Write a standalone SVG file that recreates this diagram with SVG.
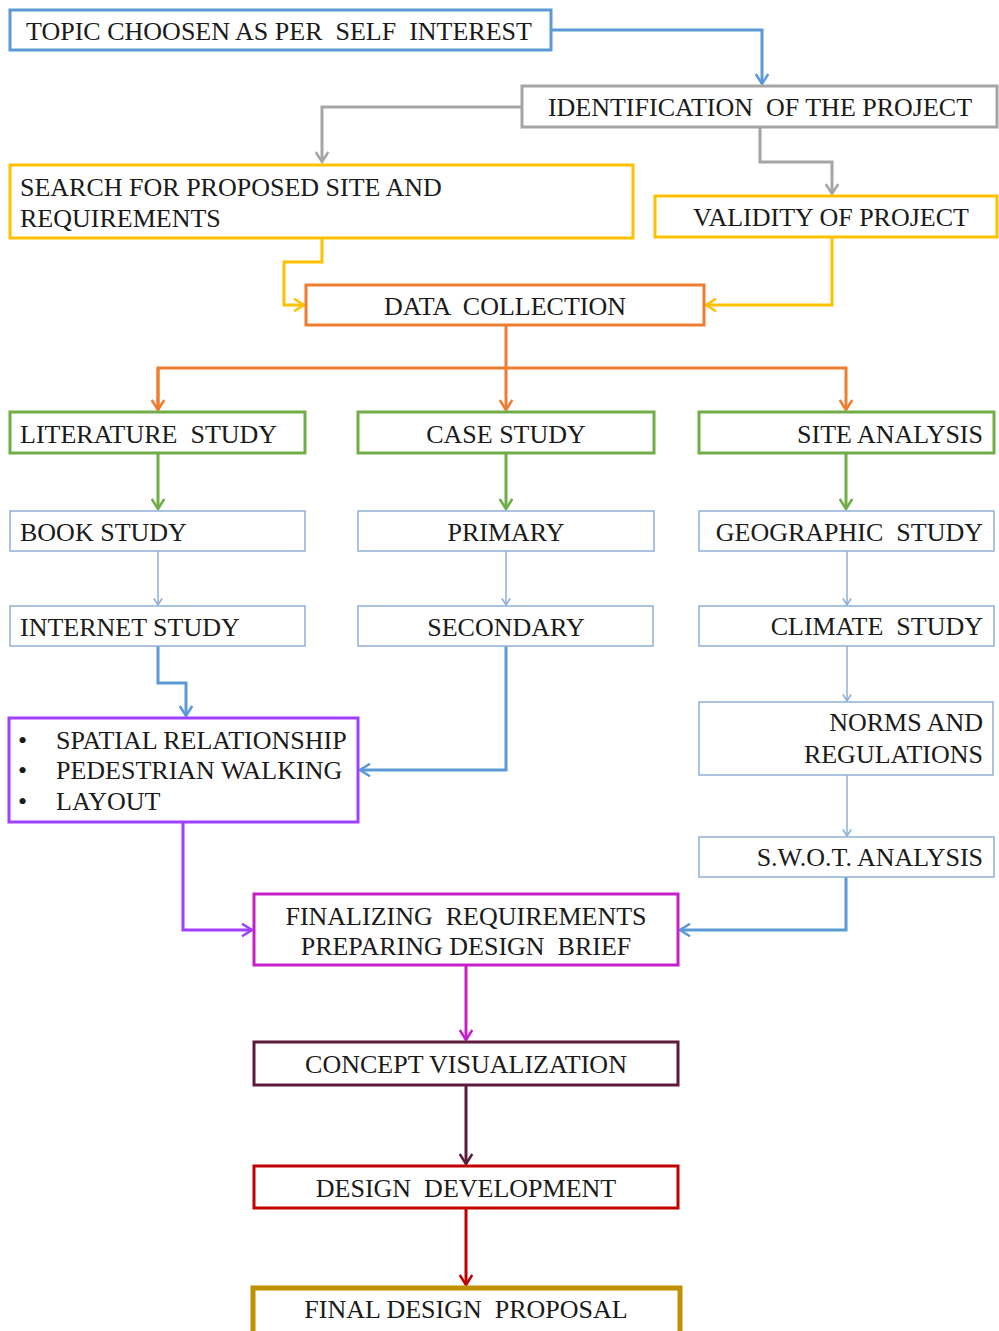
<svg xmlns="http://www.w3.org/2000/svg" width="999" height="1331" viewBox="0 0 999 1331">
  <style>
    text { font-family: "Liberation Serif", "Times New Roman", serif; font-size: 26px; fill: #1a1a1a; white-space: pre; }
    .box { fill: #ffffff; }
    .mid { text-anchor: middle; }
    .end { text-anchor: end; }
    .c { fill: none; stroke-linejoin: miter; }
    .blue { stroke: #5b9bd5; stroke-width: 3; }
    .thin { stroke: #8fb0d8; stroke-width: 1.5; }
    .gray { stroke: #a5a5a5; stroke-width: 3; }
    .yellow { stroke: #ffc000; stroke-width: 3; }
    .orange { stroke: #ed7d31; stroke-width: 3; }
    .green { stroke: #70ad47; stroke-width: 3; }
    .purple { stroke: #9f3fff; stroke-width: 3; }
    .magenta { stroke: #c81ec8; stroke-width: 3; }
    .maroon { stroke: #5e1a3c; stroke-width: 3; }
    .red { stroke: #c00000; stroke-width: 3; }
    .gold { stroke: #bf9000; stroke-width: 5; }
  </style>
  <defs>
    <marker id="a-blue" viewBox="0 0 12 12" refX="10" refY="6" markerWidth="15" markerHeight="15" markerUnits="userSpaceOnUse" orient="auto"><path d="M2,1 L10,6 L2,11" fill="none" stroke="#5b9bd5" stroke-width="2"/></marker>
    <marker id="a-thin" viewBox="0 0 12 12" refX="10" refY="6" markerWidth="10" markerHeight="10" markerUnits="userSpaceOnUse" orient="auto"><path d="M2,1 L10,6 L2,11" fill="none" stroke="#8fb0d8" stroke-width="2"/></marker>
    <marker id="a-gray" viewBox="0 0 12 12" refX="10" refY="6" markerWidth="15" markerHeight="15" markerUnits="userSpaceOnUse" orient="auto"><path d="M2,1 L10,6 L2,11" fill="none" stroke="#a5a5a5" stroke-width="2"/></marker>
    <marker id="a-yellow" viewBox="0 0 12 12" refX="10" refY="6" markerWidth="15" markerHeight="15" markerUnits="userSpaceOnUse" orient="auto"><path d="M2,1 L10,6 L2,11" fill="none" stroke="#ffc000" stroke-width="2"/></marker>
    <marker id="a-orange" viewBox="0 0 12 12" refX="10" refY="6" markerWidth="15" markerHeight="15" markerUnits="userSpaceOnUse" orient="auto"><path d="M2,1 L10,6 L2,11" fill="none" stroke="#ed7d31" stroke-width="2"/></marker>
    <marker id="a-green" viewBox="0 0 12 12" refX="10" refY="6" markerWidth="15" markerHeight="15" markerUnits="userSpaceOnUse" orient="auto"><path d="M2,1 L10,6 L2,11" fill="none" stroke="#70ad47" stroke-width="2"/></marker>
    <marker id="a-purple" viewBox="0 0 12 12" refX="10" refY="6" markerWidth="15" markerHeight="15" markerUnits="userSpaceOnUse" orient="auto"><path d="M2,1 L10,6 L2,11" fill="none" stroke="#9f3fff" stroke-width="2"/></marker>
    <marker id="a-magenta" viewBox="0 0 12 12" refX="10" refY="6" markerWidth="15" markerHeight="15" markerUnits="userSpaceOnUse" orient="auto"><path d="M2,1 L10,6 L2,11" fill="none" stroke="#c81ec8" stroke-width="2"/></marker>
    <marker id="a-maroon" viewBox="0 0 12 12" refX="10" refY="6" markerWidth="15" markerHeight="15" markerUnits="userSpaceOnUse" orient="auto"><path d="M2,1 L10,6 L2,11" fill="none" stroke="#5e1a3c" stroke-width="2"/></marker>
    <marker id="a-red" viewBox="0 0 12 12" refX="10" refY="6" markerWidth="15" markerHeight="15" markerUnits="userSpaceOnUse" orient="auto"><path d="M2,1 L10,6 L2,11" fill="none" stroke="#c00000" stroke-width="2"/></marker>
  </defs>

  <rect width="999" height="1331" fill="#ffffff"/>

  <!-- connectors -->
  <g id="connectors">
    <path class="c blue" d="M551,30 H762 V84" marker-end="url(#a-blue)"/>
    <path class="c gray" d="M522,107 H322 V162" marker-end="url(#a-gray)"/>
    <path class="c gray" d="M760,127 V162 H832 V194" marker-end="url(#a-gray)"/>
    <path class="c yellow" d="M322,238 V262 H284 V305 H304" marker-end="url(#a-yellow)"/>
    <path class="c yellow" d="M832,237 V305 H706" marker-end="url(#a-yellow)"/>
    <path class="c orange" d="M506,325 V410" marker-end="url(#a-orange)"/>
    <path class="c orange" d="M158,410 V368 H846 V410" marker-end="url(#a-orange)"/>
    <path class="c orange" d="M158,368 V410" marker-end="url(#a-orange)"/>
    <path class="c green" d="M158,453 V509" marker-end="url(#a-green)"/>
    <path class="c green" d="M506,453 V509" marker-end="url(#a-green)"/>
    <path class="c green" d="M846,453 V509" marker-end="url(#a-green)"/>
    <path class="c thin" d="M158,551 V605" marker-end="url(#a-thin)"/>
    <path class="c thin" d="M506,551 V605" marker-end="url(#a-thin)"/>
    <path class="c thin" d="M847,551 V605" marker-end="url(#a-thin)"/>
    <path class="c blue" d="M158,646 V683 H186 V716" marker-end="url(#a-blue)"/>
    <path class="c blue" d="M506,646 V770 H360" marker-end="url(#a-blue)"/>
    <path class="c thin" d="M847,646 V701" marker-end="url(#a-thin)"/>
    <path class="c thin" d="M847,775 V836" marker-end="url(#a-thin)"/>
    <path class="c purple" d="M183,822 V930 H252" marker-end="url(#a-purple)"/>
    <path class="c blue" d="M846,877 V930 H680" marker-end="url(#a-blue)"/>
    <path class="c magenta" d="M466,965 V1040" marker-end="url(#a-magenta)"/>
    <path class="c maroon" d="M466,1085 V1164" marker-end="url(#a-maroon)"/>
    <path class="c red" d="M466,1208 V1285" marker-end="url(#a-red)"/>
  </g>

  <!-- nodes -->
  <g id="topic">
    <rect class="box blue" x="10" y="10" width="541" height="40"/>
    <text x="279" y="40" class="mid">TOPIC CHOOSEN AS PER  SELF  INTEREST</text>
  </g>
  <g id="identification">
    <rect class="box gray" x="522" y="86" width="475" height="41"/>
    <text x="760" y="116" class="mid">IDENTIFICATION  OF THE PROJECT</text>
  </g>
  <g id="search-site">
    <rect class="box yellow" x="10" y="165" width="623" height="73"/>
    <text x="20" y="196">SEARCH FOR PROPOSED SITE AND</text>
    <text x="20" y="227">REQUIREMENTS</text>
  </g>
  <g id="validity">
    <rect class="box yellow" x="655" y="196" width="342" height="41"/>
    <text x="831" y="226" class="mid">VALIDITY OF PROJECT</text>
  </g>
  <g id="data-collection">
    <rect class="box orange" x="306" y="285" width="398" height="40"/>
    <text x="505" y="315" class="mid">DATA  COLLECTION</text>
  </g>

  <g id="literature-study">
    <rect class="box green" x="10" y="412" width="295" height="41"/>
    <text x="20" y="443">LITERATURE  STUDY</text>
  </g>
  <g id="case-study">
    <rect class="box green" x="358" y="412" width="296" height="41"/>
    <text x="506" y="443" class="mid">CASE STUDY</text>
  </g>
  <g id="site-analysis">
    <rect class="box green" x="699" y="412" width="295" height="41"/>
    <text x="983" y="443" class="end">SITE ANALYSIS</text>
  </g>

  <g id="book-study">
    <rect class="box thin" x="10" y="511" width="295" height="40"/>
    <text x="20" y="541">BOOK STUDY</text>
  </g>
  <g id="primary">
    <rect class="box thin" x="358" y="511" width="296" height="40"/>
    <text x="506" y="541" class="mid">PRIMARY</text>
  </g>
  <g id="geographic-study">
    <rect class="box thin" x="699" y="511" width="295" height="40"/>
    <text x="983" y="541" class="end">GEOGRAPHIC  STUDY</text>
  </g>

  <g id="internet-study">
    <rect class="box thin" x="10" y="606" width="295" height="40"/>
    <text x="20" y="636">INTERNET STUDY</text>
  </g>
  <g id="secondary">
    <rect class="box thin" x="358" y="606" width="295" height="40"/>
    <text x="506" y="636" class="mid">SECONDARY</text>
  </g>
  <g id="climate-study">
    <rect class="box thin" x="699" y="606" width="295" height="40"/>
    <text x="983" y="635" class="end">CLIMATE  STUDY</text>
  </g>

  <g id="study-outcomes">
    <rect class="box purple" x="9" y="718" width="349" height="104"/>
    <text x="18" y="749">•</text>
    <text x="56" y="749">SPATIAL RELATIONSHIP</text>
    <text x="18" y="779">•</text>
    <text x="56" y="779">PEDESTRIAN WALKING</text>
    <text x="18" y="810">•</text>
    <text x="56" y="810">LAYOUT</text>
  </g>

  <g id="norms-regulations">
    <rect class="box thin" x="699" y="702" width="294" height="73"/>
    <text x="983" y="731" class="end">NORMS AND</text>
    <text x="983" y="763" class="end">REGULATIONS</text>
  </g>
  <g id="swot-analysis">
    <rect class="box thin" x="699" y="837" width="295" height="40"/>
    <text x="983" y="866" class="end">S.W.O.T. ANALYSIS</text>
  </g>

  <g id="finalizing">
    <rect class="box magenta" x="254" y="894" width="424" height="71"/>
    <text x="466" y="925" class="mid">FINALIZING  REQUIREMENTS</text>
    <text x="466" y="955" class="mid">PREPARING DESIGN  BRIEF</text>
  </g>
  <g id="concept-visualization">
    <rect class="box maroon" x="254" y="1042" width="424" height="43"/>
    <text x="466" y="1073" class="mid">CONCEPT VISUALIZATION</text>
  </g>
  <g id="design-development">
    <rect class="box red" x="254" y="1166" width="424" height="42"/>
    <text x="466" y="1197" class="mid">DESIGN  DEVELOPMENT</text>
  </g>
  <g id="final-proposal">
    <rect class="box gold" x="253" y="1288" width="427" height="50"/>
    <text x="466" y="1318" class="mid">FINAL DESIGN  PROPOSAL</text>
  </g>
</svg>
